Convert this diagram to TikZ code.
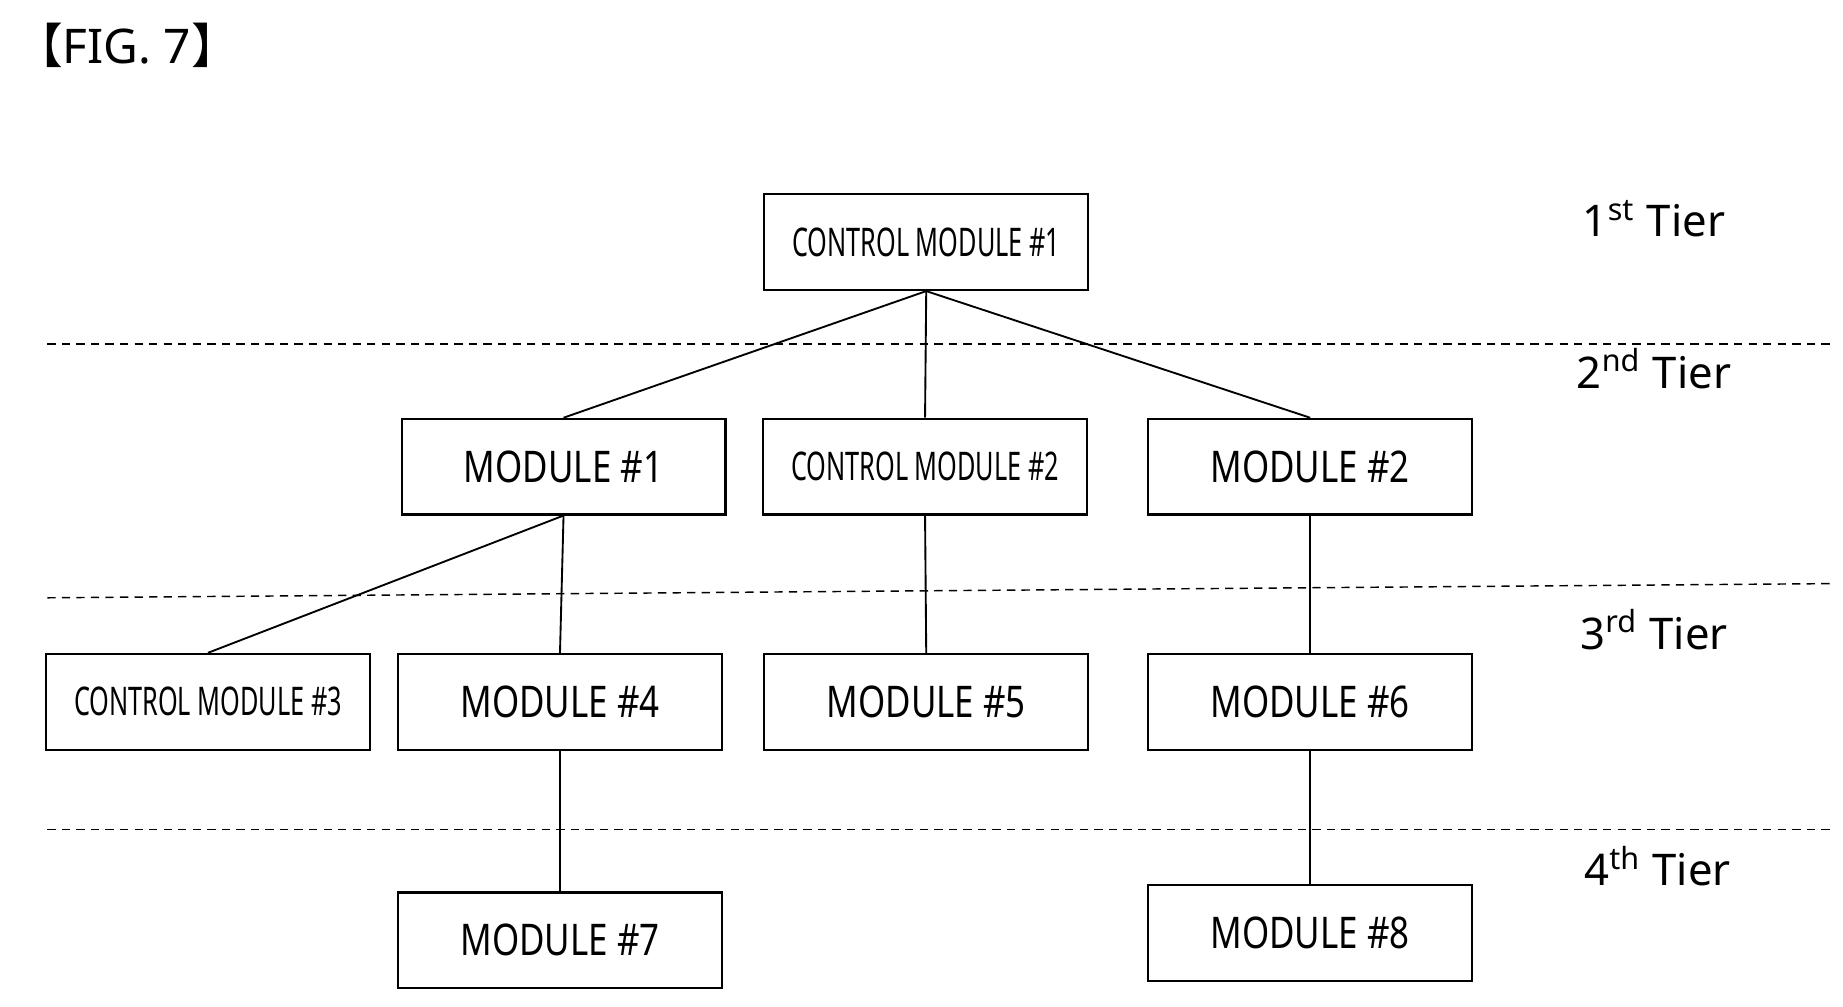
\documentclass[tikz,border=0pt]{standalone}
\usepackage{fontspec}
\setmainfont{Noto Sans}
\newfontfamily\narrowfont[FakeStretch=0.8]{Noto Sans}
\newfontfamily\tightfont[FakeStretch=0.64]{Noto Sans}
\newfontfamily\cjk{Noto Sans CJK SC}
\usetikzlibrary{positioning}

\begin{document}
\begin{tikzpicture}[x=0.01cm,y=-0.01cm,
	box/.style={draw,line width=0.5pt,minimum width=2.74cm,minimum height=0.81cm,
		inner sep=0pt,font=\narrowfont\fontsize{10.5}{12}\selectfont},
	ctrl box/.style={box,font=\tightfont\fontsize{9.5}{11}\selectfont},
	tier/.style={line width=0.35pt,dash pattern=on 2pt off 1.5pt},
	link/.style={line width=0.45pt},
	tier label/.style={font=\fontsize{10.5}{12}\selectfont}]
	
	\useasboundingbox (0,0) rectangle (1560,852);
	
	\node[font=\fontsize{11.5}{14}\selectfont,anchor=west,inner sep=0pt] (fig) at (12,38)
		{{\cjk【}FIG. 7{\cjk】}};
	
	% tier separators
	\draw[tier] (40,291) -- (1550,291);
	\draw[tier] (40,506) -- (1550,494);
	\draw[tier] (40,702) -- (1550,702);
	
	\node[tier label] (t1) at (1400,185) {1\textsuperscript{st} Tier};
	\node[tier label] (t2) at (1400,312) {2\textsuperscript{nd} Tier};
	\node[tier label] (t3) at (1400,533) {3\textsuperscript{rd} Tier};
	\node[tier label] (t4) at (1403,733) {4\textsuperscript{th} Tier};
	
	\node[ctrl box] (cm1) at (784,205) {CONTROL MODULE \#1};
	\node[box] (m1) at (477,395) {MODULE \#1};
	\node[ctrl box] (cm2) at (783,395) {CONTROL MODULE \#2};
	\node[box] (m2) at (1109,395) {MODULE \#2};
	\node[ctrl box] (cm3) at (176,594) {CONTROL MODULE \#3};
	\node[box] (m4) at (474,594) {MODULE \#4};
	\node[box] (m5) at (784,594) {MODULE \#5};
	\node[box] (m6) at (1109,594) {MODULE \#6};
	\node[box] (m7) at (474,796) {MODULE \#7};
	\node[box] (m8) at (1109,790) {MODULE \#8};
	
	\draw[link] (cm1.south) -- (m1.north);
	\draw[link] (cm1.south) -- (cm2.north);
	\draw[link] (cm1.south) -- (m2.north);
	\draw[link] (m1.south) -- (cm3.north);
	\draw[link] (m1.south) -- (m4.north);
	\draw[link] (cm2.south) -- (m5.north);
	\draw[link] (m2.south) -- (m6.north);
	\draw[link] (m4.south) -- (m7.north);
	\draw[link] (m6.south) -- (m8.north);
\end{tikzpicture}
\end{document}
